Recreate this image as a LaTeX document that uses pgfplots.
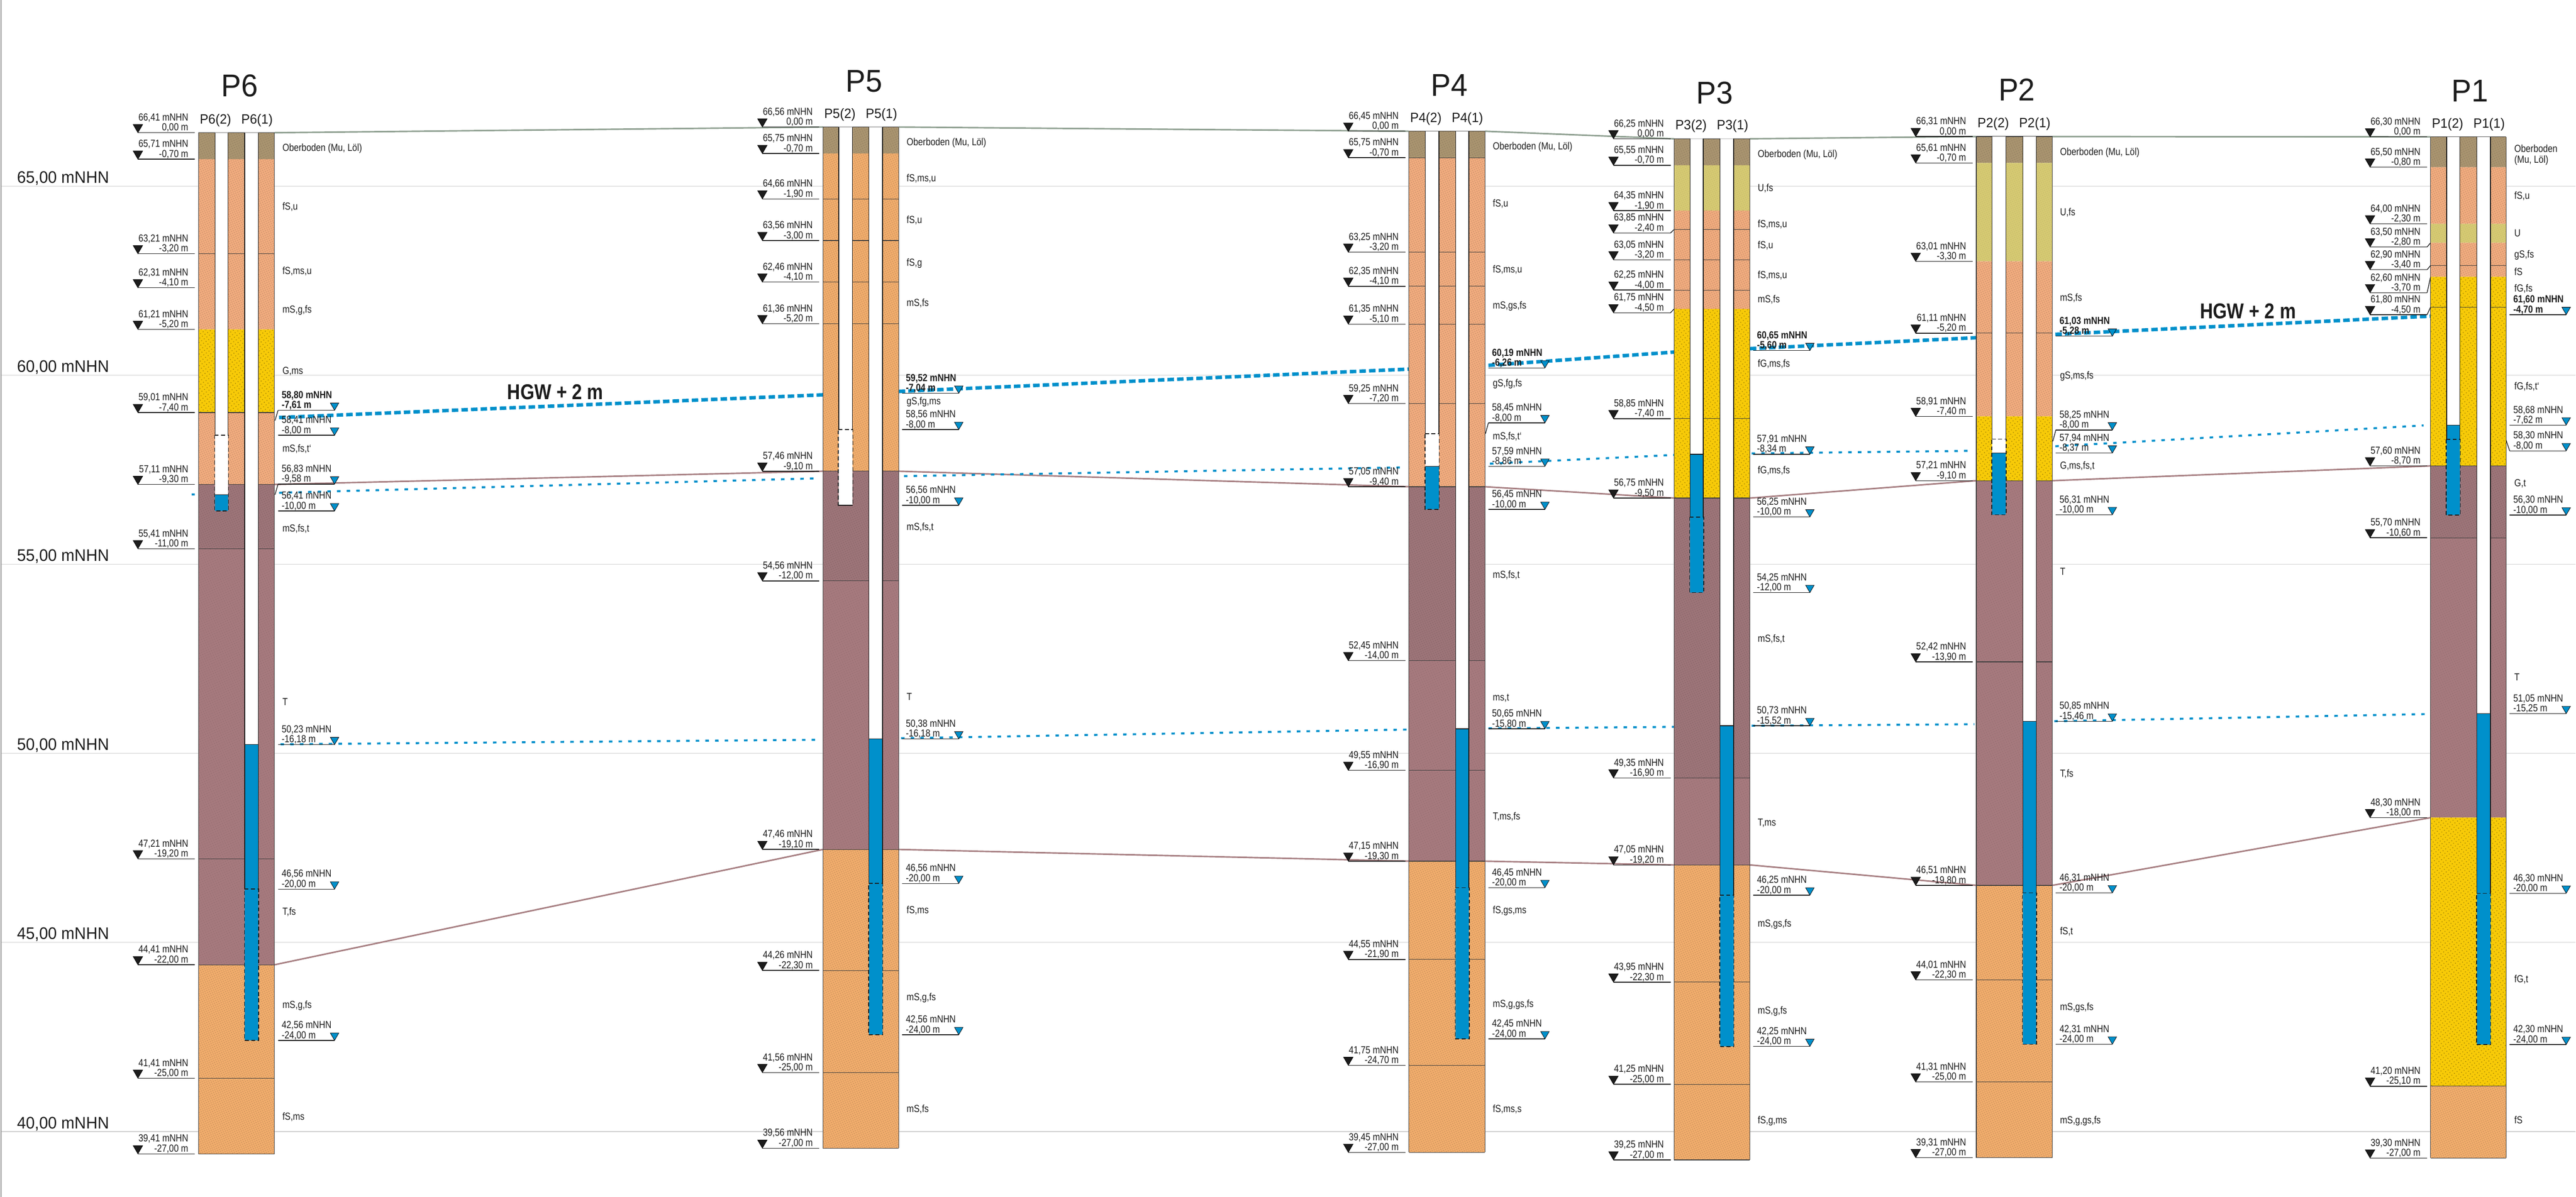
\documentclass[border=0pt]{standalone}
\usepackage{pgfplots}
\pgfplotsset{compat=1.18}
\usepackage{fontspec}
\usetikzlibrary{patterns.meta}
\setmainfont[FakeStretch=0.84]{Liberation Sans}
\newfontfamily\axfont[FakeStretch=0.95]{Liberation Sans}

\definecolor{ober}{HTML}{A8936F}
\definecolor{sandp}{HTML}{F0AB7E}
\definecolor{sand}{HTML}{F0AC6C}
\definecolor{grav}{HTML}{F7CA08}
\definecolor{silt}{HTML}{D5C972}
\definecolor{clay}{HTML}{A5797D}
\definecolor{clayd}{HTML}{9C7478}
\definecolor{wat}{HTML}{0090CB}
\definecolor{terr}{HTML}{8FA091}
\definecolor{clin}{HTML}{A77F82}
\definecolor{ink}{HTML}{1C1C1C}
\definecolor{gridc}{HTML}{CFCFCF}

\pgfplotsset{
  lbl/.style={ink,line width=0.7pt,forget plot},
  sep/.style={ink!85,line width=0.6pt,forget plot},
  tcorr/.style={terr,line width=1.5pt,forget plot},
  ccorr/.style={clin,line width=1.5pt,forget plot},
  hgw/.style={wat,line width=3.5pt,dash pattern=on 6.5pt off 3.1pt,forget plot},
  low/.style={wat,line width=2pt,dash pattern=on 3.5pt off 6.15pt,forget plot},
}
\tikzset{
  tt/.style={inner sep=0pt,text=ink,font=\fontsize{10.25}{12}\selectfont},
  txober/.style={postaction={pattern={Dots[radius=0.4pt,distance=2.3pt,angle=23]},pattern color=ober!80!black}},
  txsandp/.style={postaction={pattern={Dots[radius=0.45pt,distance=2.1pt,angle=23]},pattern color=sandp!78!black}},
  txsand/.style={postaction={pattern={Dots[radius=0.45pt,distance=2.1pt,angle=23]},pattern color=sand!78!black}},
  txgrav/.style={postaction={pattern={Dots[radius=0.6pt,distance=3.2pt,angle=35]},pattern color=grav!70!black}},
  txsilt/.style={postaction={pattern={Dots[radius=0.3pt,distance=2pt,angle=23]},pattern color=silt!85!black}},
  txclay/.style={postaction={pattern={Dots[radius=0.35pt,distance=2.4pt,angle=23]},pattern color=clay!85!black}},
  txclayd/.style={postaction={pattern={Dots[radius=0.4pt,distance=2.2pt,angle=23]},pattern color=clayd!82!black}},
}

% stratum: x left, x right, colour, top, bottom
\newcommand{\st}[5]{\addplot[fill=#3,draw=none,tx#3,forget plot] coordinates {(#1,#4)(#2,#4)(#2,#5)(#1,#5)(#1,#4)};}
% stratum boundary line
\newcommand{\hl}[3]{\addplot[sep] coordinates {(#1,#3)(#2,#3)};}
% outer sides of a column
\newcommand{\sides}[4]{\addplot[sep] coordinates {(#1,#3)(#1,#4)};\addplot[sep] coordinates {(#2,#3)(#2,#4)};}
% pipe: xl, xr, top, water level, filter top, bottom
\newcommand{\pipe}[6]{%
  \addplot[fill=white,draw=none,forget plot] coordinates {(#1,#3)(#2,#3)(#2,#4)(#1,#4)(#1,#3)};
  \addplot[fill=wat,draw=none,forget plot] coordinates {(#1,#4)(#2,#4)(#2,#6)(#1,#6)(#1,#4)};
  \addplot[lbl] coordinates {(#1,#3)(#1,#5)};
  \addplot[lbl] coordinates {(#2,#3)(#2,#5)};
  \addplot[lbl] coordinates {(#1,#4)(#2,#4)};
  \pgfmathsetmacro\pa{#1-0.8}\pgfmathsetmacro\pb{#2+0.8}%
  \addplot[ink,line width=0.8pt,dash pattern=on 4pt off 2.5pt,forget plot] coordinates {(\pa,#5)(\pb,#5)(\pb,#6)(\pa,#6)(\pa,#5)};
}
% left level label: column x, level of the line, two text lines
\newcommand{\Ll}[4]{%
  \pgfmathsetmacro\la{#1-121}\pgfmathsetmacro\lb{#1-7}%
  \addplot[lbl] coordinates {(\la,#2)(\lb,#2)};
  \addplot[only marks,mark=triangle*,mark size=5.5pt,mark options={yshift=5.5pt,rotate=180,fill=ink,draw=none},forget plot] coordinates {(\la,#2)};
  \node[tt,anchor=base east,yshift=12pt] at (axis cs:{#1-20},#2) {#3};
  \node[tt,anchor=base east,yshift=2pt] at (axis cs:{#1-20},#2) {#4};
}
% right water label: column x, level of the line, two text lines, font switch
\newcommand{\Rl}[5][]{%
  \pgfmathsetmacro\la{#2+7}\pgfmathsetmacro\lb{#2+120}%
  \addplot[lbl] coordinates {(\la,#3)(\lb,#3)};
  \addplot[only marks,mark=triangle*,mark size=4.9pt,mark options={yshift=4.9pt,rotate=180,fill=wat,draw=none},forget plot] coordinates {(\lb,#3)};
  \node[tt,anchor=base west,yshift=12pt] at (axis cs:{#2+14},#3) {#1#4};
  \node[tt,anchor=base west,yshift=2pt] at (axis cs:{#2+14},#3) {#1#5};
}
% leader from label line to column
\newcommand{\lead}[4]{\addplot[lbl] coordinates {(#1,#2)(#3,#4)};}
% text by its centre height in pixels of the sheet
\newcommand{\tx}[3]{\node[tt,anchor=base west,yshift=-3.7pt] at (axis cs:#1,{65-(#2-372)/75.6}) {#3};}
\newcommand{\ttl}[3]{\node[inner sep=0pt,text=ink,anchor=base,yshift=-11.3pt,font=\axfont\fontsize{31.5}{34}\selectfont] at (axis cs:#1,{65-(#2-372)/75.6}) {#3};}
\newcommand{\sub}[3]{\node[inner sep=0pt,text=ink,anchor=base,yshift=9pt,font=\axfont\fontsize{13.5}{15}\selectfont] at (axis cs:#1,#2) {#3};}

\begin{document}
\begin{tikzpicture}
\begin{axis}[
  scale only axis,width=2573.5pt,height=1196.5pt,
  xmin=0,xmax=5147,ymin=38.27,ymax=69.92,
  xtick=\empty,
  ytick={40,45,50,55,60,65},
  yticklabels={{40,00 mNHN},{45,00 mNHN},{50,00 mNHN},{55,00 mNHN},{60,00 mNHN},{65,00 mNHN}},
  y tick label style={anchor=base west,inner sep=0pt,xshift=16.5pt,yshift=3pt,text=ink,font=\axfont\fontsize{16.75}{18}\selectfont},
  ymajorgrids,grid style={gridc,line width=0.65pt},
  axis line style={draw=none},major tick length=0pt,
]
\addplot[gray!80,line width=1.25pt,forget plot] coordinates {(1.5,38.27)(1.5,69.92)};

% correlation lines
\addplot[tcorr] coordinates {(548,66.41)(1644,66.56)};
\addplot[tcorr] coordinates {(1795.5,66.56)(2815,66.45)};
\addplot[tcorr] coordinates {(2967,66.45)(3345,66.25)};
\addplot[tcorr] coordinates {(3496.5,66.25)(3949,66.31)};
\addplot[tcorr] coordinates {(4101,66.31)(4857,66.30)};
\addplot[ccorr] coordinates {(548,57.11)(1644,57.46)};
\addplot[ccorr] coordinates {(1795.5,57.46)(2815,57.05)};
\addplot[ccorr] coordinates {(2967,57.05)(3345,56.75)};
\addplot[ccorr] coordinates {(3496.5,56.75)(3949,57.21)};
\addplot[ccorr] coordinates {(4101,57.21)(4857,57.60)};
\addplot[ccorr] coordinates {(548,44.41)(1644,47.46)};
\addplot[ccorr] coordinates {(1795.5,47.46)(2815,47.15)};
\addplot[ccorr] coordinates {(2967,47.15)(3345,47.05)};
\addplot[ccorr] coordinates {(3496.5,47.05)(3949,46.51)};
\addplot[ccorr] coordinates {(4101,46.51)(4857,48.30)};

% HGW + 2 m
\addplot[hgw] coordinates {(557,58.88)(1644,59.48)};
\addplot[hgw] coordinates {(1795.5,59.57)(2815,60.16)};
\addplot[hgw] coordinates {(2974,60.26)(3345,60.61)};
\addplot[hgw] coordinates {(3496.5,60.70)(3949,60.99)};
\addplot[hgw] coordinates {(4107,61.08)(4857,61.56)};
% measured levels
\addplot[low] coordinates {(382,56.84)(389,56.84)};
\addplot[low] coordinates {(557,56.89)(1628,57.27)};
\addplot[low] coordinates {(1806,57.33)(2800,57.56)};
\addplot[low] coordinates {(2977,57.66)(3345,57.89)};
\addplot[low] coordinates {(3500,57.93)(3942,58.00)};
\addplot[low] coordinates {(4107,58.12)(4843,58.67)};
\addplot[low] coordinates {(560,50.24)(1640,50.36)};
\addplot[low] coordinates {(1800,50.40)(2813,50.63)};
\addplot[low] coordinates {(2974,50.66)(3345,50.70)};
\addplot[low] coordinates {(3500,50.73)(3945,50.77)};
\addplot[low] coordinates {(4105,50.85)(4855,51.04)};

\node[inner sep=0pt,text=ink,anchor=base west,font=\fontsize{21.5}{24}\selectfont\bfseries] at (axis cs:1013,{65-(799-372)/75.6}) {HGW + 2 m};
\node[inner sep=0pt,text=ink,anchor=base,font=\fontsize{21.5}{24}\selectfont\bfseries] at (axis cs:4492,{65-(637-372)/75.6}) {HGW + 2 m};

% ---- P6
\st{396}{548}{ober}{66.41}{65.71}
\st{396}{548}{sandp}{65.71}{61.21}
\st{396}{548}{grav}{61.21}{59.01}
\st{396}{548}{sandp}{59.01}{57.11}
\st{396}{548}{clayd}{57.11}{55.41}
\st{396}{548}{clay}{55.41}{44.41}
\st{396}{548}{sand}{44.41}{39.41}
\hl{396}{548}{66.41}\hl{396}{548}{63.21}\hl{396}{548}{59.01}\hl{396}{548}{57.11}\hl{396}{548}{55.41}
\hl{396}{548}{47.21}\hl{396}{548}{44.41}\hl{396}{548}{41.41}\hl{396}{548}{39.41}
\sides{396}{548}{66.41}{39.41}
\pipe{429}{455}{66.41}{56.84}{58.41}{56.41}
\pipe{488.5}{515.5}{66.41}{50.23}{46.41}{42.41}
\ttl{478}{171}{P6}
\sub{430}{66.41}{P6(2)}\sub{513}{66.41}{P6(1)}
\Ll{396}{66.41}{66,41 mNHN}{0,00 m}
\Ll{396}{65.71}{65,71 mNHN}{-0,70 m}
\Ll{396}{63.21}{63,21 mNHN}{-3,20 m}
\Ll{396}{62.31}{62,31 mNHN}{-4,10 m}
\Ll{396}{61.21}{61,21 mNHN}{-5,20 m}
\Ll{396}{59.01}{59,01 mNHN}{-7,40 m}
\Ll{396}{57.11}{57,11 mNHN}{-9,30 m}
\Ll{396}{55.41}{55,41 mNHN}{-11,00 m}
\Ll{396}{47.21}{47,21 mNHN}{-19,20 m}
\Ll{396}{44.41}{44,41 mNHN}{-22,00 m}
\Ll{396}{41.41}{41,41 mNHN}{-25,00 m}
\Ll{396}{39.41}{39,41 mNHN}{-27,00 m}
\Rl[\bfseries]{548}{59.07}{58,80 mNHN}{-7,61 m}
\lead{555}{59.07}{549}{58.80}
\Rl{548}{58.41}{58,41 mNHN}{-8,00 m}
\Rl{548}{57.12}{56,83 mNHN}{-9,58 m}
\lead{555}{57.12}{549}{56.84}
\Rl{548}{56.41}{56,41 mNHN}{-10,00 m}
\Rl{548}{50.23}{50,23 mNHN}{-16,18 m}
\Rl{548}{46.41}{46,56 mNHN}{-20,00 m}
\Rl{548}{42.41}{42,56 mNHN}{-24,00 m}
\tx{563.5}{295}{Oberboden (Mu, Löl)}
\tx{563.5}{412}{fS,u}
\tx{563.5}{541}{fS,ms,u}
\tx{563.5}{618}{mS,g,fs}
\tx{563.5}{741}{G,ms}
\tx{563.5}{896}{mS,fs,t‘}
\tx{563.5}{1056}{mS,fs,t}
\tx{563.5}{1403}{T}
\tx{563.5}{1822}{T,fs}
\tx{563.5}{2008}{mS,g,fs}
\tx{563.5}{2231}{fS,ms}

% ---- P5
\st{1644}{1795.5}{ober}{66.56}{65.86}
\st{1644}{1795.5}{sand}{65.86}{57.46}
\st{1644}{1795.5}{clayd}{57.46}{54.56}
\st{1644}{1795.5}{clay}{54.56}{47.46}
\st{1644}{1795.5}{sand}{47.46}{39.56}
\hl{1644}{1795.5}{66.56}\hl{1644}{1795.5}{64.66}\hl{1644}{1795.5}{63.56}\hl{1644}{1795.5}{62.46}\hl{1644}{1795.5}{61.36}
\hl{1644}{1795.5}{57.46}\hl{1644}{1795.5}{54.56}\hl{1644}{1795.5}{47.46}\hl{1644}{1795.5}{44.26}\hl{1644}{1795.5}{41.56}\hl{1644}{1795.5}{39.56}
\sides{1644}{1795.5}{66.56}{39.56}
\pipe{1675.5}{1703}{66.56}{56.56}{58.56}{56.56}
\pipe{1736}{1763}{66.56}{50.38}{46.56}{42.56}
\ttl{1726}{161}{P5}
\sub{1678}{66.56}{P5(2)}\sub{1761}{66.56}{P5(1)}
\Ll{1644}{66.56}{66,56 mNHN}{0,00 m}
\Ll{1644}{65.86}{65,75 mNHN}{-0,70 m}
\Ll{1644}{64.66}{64,66 mNHN}{-1,90 m}
\Ll{1644}{63.56}{63,56 mNHN}{-3,00 m}
\Ll{1644}{62.46}{62,46 mNHN}{-4,10 m}
\Ll{1644}{61.36}{61,36 mNHN}{-5,20 m}
\Ll{1644}{57.46}{57,46 mNHN}{-9,10 m}
\Ll{1644}{54.56}{54,56 mNHN}{-12,00 m}
\Ll{1644}{47.46}{47,46 mNHN}{-19,10 m}
\Ll{1644}{44.26}{44,26 mNHN}{-22,30 m}
\Ll{1644}{41.56}{41,56 mNHN}{-25,00 m}
\Ll{1644}{39.56}{39,56 mNHN}{-27,00 m}
\Rl[\bfseries]{1795.5}{59.52}{59,52 mNHN}{-7,04 m}
\Rl{1795.5}{58.56}{58,56 mNHN}{-8,00 m}
\Rl{1795.5}{56.56}{56,56 mNHN}{-10,00 m}
\Rl{1795.5}{50.38}{50,38 mNHN}{-16,18 m}
\Rl{1795.5}{46.56}{46,56 mNHN}{-20,00 m}
\Rl{1795.5}{42.56}{42,56 mNHN}{-24,00 m}
\tx{1811}{284}{Oberboden (Mu, Löl)}
\tx{1811}{356}{fS,ms,u}
\tx{1811}{439}{fS,u}
\tx{1811}{524}{fS,g}
\tx{1811}{605}{mS,fs}
\tx{1811}{801}{gS,fg,ms}
\tx{1811}{1053}{mS,fs,t}
\tx{1811}{1392}{T}
\tx{1811}{1819}{fS,ms}
\tx{1811}{1993}{mS,g,fs}
\tx{1811}{2216}{mS,fs}

% ---- P4
\st{2815}{2967}{ober}{66.45}{65.75}
\st{2815}{2967}{sandp}{65.75}{57.05}
\st{2815}{2967}{clayd}{57.05}{52.45}
\st{2815}{2967}{clay}{52.45}{47.15}
\st{2815}{2967}{sand}{47.15}{39.45}
\hl{2815}{2967}{66.45}\hl{2815}{2967}{65.75}\hl{2815}{2967}{63.25}\hl{2815}{2967}{62.35}\hl{2815}{2967}{61.35}\hl{2815}{2967}{59.25}
\hl{2815}{2967}{57.05}\hl{2815}{2967}{52.45}\hl{2815}{2967}{49.55}\hl{2815}{2967}{47.15}\hl{2815}{2967}{44.55}\hl{2815}{2967}{41.75}\hl{2815}{2967}{39.45}
\sides{2815}{2967}{66.45}{39.45}
\pipe{2848}{2875}{66.45}{57.59}{58.45}{56.45}
\pipe{2908.5}{2935}{66.45}{50.65}{46.45}{42.45}
\ttl{2896}{169}{P4}
\sub{2849}{66.45}{P4(2)}\sub{2932}{66.45}{P4(1)}
\Ll{2815}{66.45}{66,45 mNHN}{0,00 m}
\Ll{2815}{65.75}{65,75 mNHN}{-0,70 m}
\Ll{2815}{63.25}{63,25 mNHN}{-3,20 m}
\Ll{2815}{62.35}{62,35 mNHN}{-4,10 m}
\Ll{2815}{61.35}{61,35 mNHN}{-5,10 m}
\Ll{2815}{59.25}{59,25 mNHN}{-7,20 m}
\Ll{2815}{57.05}{57,05 mNHN}{-9,40 m}
\Ll{2815}{52.45}{52,45 mNHN}{-14,00 m}
\Ll{2815}{49.55}{49,55 mNHN}{-16,90 m}
\Ll{2815}{47.15}{47,15 mNHN}{-19,30 m}
\Ll{2815}{44.55}{44,55 mNHN}{-21,90 m}
\Ll{2815}{41.75}{41,75 mNHN}{-24,70 m}
\Ll{2815}{39.45}{39,45 mNHN}{-27,00 m}
\Rl[\bfseries]{2967}{60.19}{60,19 mNHN}{-6,26 m}
\Rl{2967}{58.74}{58,45 mNHN}{-8,00 m}
\lead{2974}{58.74}{2968}{58.45}
\Rl{2967}{57.59}{57,59 mNHN}{-8,86 m}
\Rl{2967}{56.45}{56,45 mNHN}{-10,00 m}
\Rl{2967}{50.65}{50,65 mNHN}{-15,80 m}
\Rl{2967}{46.45}{46,45 mNHN}{-20,00 m}
\Rl{2967}{42.45}{42,45 mNHN}{-24,00 m}
\tx{2982.5}{292}{Oberboden (Mu, Löl)}
\tx{2982.5}{406}{fS,u}
\tx{2982.5}{538}{fS,ms,u}
\tx{2982.5}{610}{mS,gs,fs}
\tx{2982.5}{765}{gS,fg,fs}
\tx{2982.5}{871}{mS,fs,t‘}
\tx{2982.5}{1148}{mS,fs,t}
\tx{2982.5}{1393}{ms,t}
\tx{2982.5}{1631}{T,ms,fs}
\tx{2982.5}{1819}{fS,gs,ms}
\tx{2982.5}{2006}{mS,g,gs,fs}
\tx{2982.5}{2216}{fS,ms,s}

% ---- P3
\st{3345}{3496.5}{ober}{66.25}{65.55}
\st{3345}{3496.5}{silt}{65.55}{64.35}
\st{3345}{3496.5}{sandp}{64.35}{61.75}
\st{3345}{3496.5}{grav}{61.75}{56.75}
\st{3345}{3496.5}{clayd}{56.75}{49.35}
\st{3345}{3496.5}{clay}{49.35}{47.05}
\st{3345}{3496.5}{sand}{47.05}{39.25}
\hl{3345}{3496.5}{66.25}\hl{3345}{3496.5}{63.85}\hl{3345}{3496.5}{63.05}\hl{3345}{3496.5}{62.25}\hl{3345}{3496.5}{58.85}
\hl{3345}{3496.5}{56.75}\hl{3345}{3496.5}{49.35}\hl{3345}{3496.5}{47.05}\hl{3345}{3496.5}{43.95}\hl{3345}{3496.5}{41.25}\hl{3345}{3496.5}{39.25}
\sides{3345}{3496.5}{66.25}{39.25}
\pipe{3377}{3403.5}{66.25}{57.91}{56.25}{54.25}
\pipe{3437}{3464}{66.25}{50.73}{46.25}{42.25}
\ttl{3426}{185}{P3}
\sub{3379}{66.25}{P3(2)}\sub{3462}{66.25}{P3(1)}
\Ll{3345}{66.25}{66,25 mNHN}{0,00 m}
\Ll{3345}{65.55}{65,55 mNHN}{-0,70 m}
\Ll{3345}{64.35}{64,35 mNHN}{-1,90 m}
\Ll{3345}{63.76}{63,85 mNHN}{-2,40 m}
\lead{3338}{63.76}{3345}{63.85}
\Ll{3345}{63.05}{63,05 mNHN}{-3,20 m}
\Ll{3345}{62.25}{62,25 mNHN}{-4,00 m}
\Ll{3345}{61.65}{61,75 mNHN}{-4,50 m}
\lead{3338}{61.65}{3345}{61.75}
\Ll{3345}{58.85}{58,85 mNHN}{-7,40 m}
\Ll{3345}{56.75}{56,75 mNHN}{-9,50 m}
\Ll{3345}{49.35}{49,35 mNHN}{-16,90 m}
\Ll{3345}{47.05}{47,05 mNHN}{-19,20 m}
\Ll{3345}{43.95}{43,95 mNHN}{-22,30 m}
\Ll{3345}{41.25}{41,25 mNHN}{-25,00 m}
\Ll{3345}{39.25}{39,25 mNHN}{-27,00 m}
\Rl[\bfseries]{3496.5}{60.65}{60,65 mNHN}{-5,60 m}
\Rl{3496.5}{57.91}{57,91 mNHN}{-8,34 m}
\Rl{3496.5}{56.25}{56,25 mNHN}{-10,00 m}
\Rl{3496.5}{54.25}{54,25 mNHN}{-12,00 m}
\Rl{3496.5}{50.73}{50,73 mNHN}{-15,52 m}
\Rl{3496.5}{46.25}{46,25 mNHN}{-20,00 m}
\Rl{3496.5}{42.25}{42,25 mNHN}{-24,00 m}
\tx{3512}{307}{Oberboden (Mu, Löl)}
\tx{3512}{375}{U,fs}
\tx{3512}{447}{fS,ms,u}
\tx{3512}{489}{fS,u}
\tx{3512}{549}{fS,ms,u}
\tx{3512}{598}{mS,fs}
\tx{3512}{726}{fG,ms,fs}
\tx{3512}{939}{fG,ms,fs}
\tx{3512}{1276}{mS,fs,t}
\tx{3512}{1644}{T,ms}
\tx{3512}{1845}{mS,gs,fs}
\tx{3512}{2019}{mS,g,fs}
\tx{3512}{2239}{fS,g,ms}

% ---- P2
\st{3949}{4101}{ober}{66.31}{65.61}
\st{3949}{4101}{silt}{65.61}{63.01}
\st{3949}{4101}{sandp}{63.01}{58.91}
\st{3949}{4101}{grav}{58.91}{57.21}
\st{3949}{4101}{clay}{57.21}{46.51}
\st{3949}{4101}{sand}{46.51}{39.31}
\hl{3949}{4101}{66.31}\hl{3949}{4101}{61.11}\hl{3949}{4101}{57.21}\hl{3949}{4101}{52.42}\hl{3949}{4101}{46.51}
\hl{3949}{4101}{44.01}\hl{3949}{4101}{41.31}\hl{3949}{4101}{39.31}
\sides{3949}{4101}{66.31}{39.31}
\pipe{3980.5}{4008}{66.31}{57.94}{58.31}{56.31}
\pipe{4042}{4069}{66.31}{50.85}{46.31}{42.31}
\ttl{4030}{179}{P2}
\sub{3983}{66.31}{P2(2)}\sub{4066}{66.31}{P2(1)}
\Ll{3949}{66.31}{66,31 mNHN}{0,00 m}
\Ll{3949}{65.61}{65,61 mNHN}{-0,70 m}
\Ll{3949}{63.01}{63,01 mNHN}{-3,30 m}
\Ll{3949}{61.11}{61,11 mNHN}{-5,20 m}
\Ll{3949}{58.91}{58,91 mNHN}{-7,40 m}
\Ll{3949}{57.21}{57,21 mNHN}{-9,10 m}
\Ll{3949}{52.42}{52,42 mNHN}{-13,90 m}
\Ll{3949}{46.51}{46,51 mNHN}{-19,80 m}
\Ll{3949}{44.01}{44,01 mNHN}{-22,30 m}
\Ll{3949}{41.31}{41,31 mNHN}{-25,00 m}
\Ll{3949}{39.31}{39,31 mNHN}{-27,00 m}
\Rl[\bfseries]{4101}{61.03}{61,03 mNHN}{-5,28 m}
\Rl{4101}{58.55}{58,25 mNHN}{-8,00 m}
\lead{4108}{58.55}{4102}{58.25}
\Rl{4101}{57.94}{57,94 mNHN}{-8,37 m}
\Rl{4101}{56.31}{56,31 mNHN}{-10,00 m}
\Rl{4101}{50.85}{50,85 mNHN}{-15,46 m}
\Rl{4101}{46.31}{46,31 mNHN}{-20,00 m}
\Rl{4101}{42.31}{42,31 mNHN}{-24,00 m}
\tx{4116}{303}{Oberboden (Mu, Löl)}
\tx{4116}{424}{U,fs}
\tx{4116}{594}{mS,fs}
\tx{4116}{750}{gS,ms,fs}
\tx{4116}{930}{G,ms,fs,t}
\tx{4116}{1142}{T}
\tx{4116}{1546}{T,fs}
\tx{4116}{1861}{fS,t}
\tx{4116}{2012}{mS,gs,fs}
\tx{4116}{2239}{mS,g,gs,fs}

% ---- P1
\st{4857}{5008}{ober}{66.30}{65.50}
\st{4857}{5008}{sandp}{65.50}{64.00}
\st{4857}{5008}{silt}{64.00}{63.50}
\st{4857}{5008}{sandp}{63.50}{62.60}
\st{4857}{5008}{grav}{62.60}{57.60}
\st{4857}{5008}{clayd}{57.60}{55.70}
\st{4857}{5008}{clay}{55.70}{48.30}
\st{4857}{5008}{grav}{48.30}{41.20}
\st{4857}{5008}{sand}{41.20}{39.30}
\hl{4857}{5008}{66.30}\hl{4857}{5008}{62.90}\hl{4857}{5008}{61.80}\hl{4857}{5008}{57.60}\hl{4857}{5008}{55.70}\hl{4857}{5008}{41.20}\hl{4857}{5008}{39.30}
\sides{4857}{5008}{66.30}{39.30}
\pipe{4889}{4915.5}{66.30}{58.68}{58.30}{56.30}
\pipe{4949.5}{4976.5}{66.30}{51.05}{46.30}{42.30}
\ttl{4936}{181}{P1}
\sub{4891}{66.30}{P1(2)}\sub{4974}{66.30}{P1(1)}
\Ll{4857}{66.30}{66,30 mNHN}{0,00 m}
\Ll{4857}{65.50}{65,50 mNHN}{-0,80 m}
\Ll{4857}{64.00}{64,00 mNHN}{-2,30 m}
\Ll{4857}{63.39}{63,50 mNHN}{-2,80 m}
\lead{4850}{63.39}{4857}{63.50}
\Ll{4857}{62.79}{62,90 mNHN}{-3,40 m}
\lead{4850}{62.79}{4857}{62.90}
\Ll{4857}{62.18}{62,60 mNHN}{-3,70 m}
\lead{4850}{62.18}{4857}{62.60}
\Ll{4857}{61.60}{61,80 mNHN}{-4,50 m}
\lead{4850}{61.60}{4857}{61.80}
\Ll{4857}{57.60}{57,60 mNHN}{-8,70 m}
\Ll{4857}{55.70}{55,70 mNHN}{-10,60 m}
\Ll{4857}{48.30}{48,30 mNHN}{-18,00 m}
\Ll{4857}{41.20}{41,20 mNHN}{-25,10 m}
\Ll{4857}{39.30}{39,30 mNHN}{-27,00 m}
\Rl[\bfseries]{5008}{61.60}{61,60 mNHN}{-4,70 m}
\Rl{5008}{58.68}{58,68 mNHN}{-7,62 m}
\Rl{5008}{58.00}{58,30 mNHN}{-8,00 m}
\lead{5015}{58.00}{5008}{58.28}
\Rl{5008}{56.30}{56,30 mNHN}{-10,00 m}
\Rl{5008}{51.05}{51,05 mNHN}{-15,25 m}
\Rl{5008}{46.30}{46,30 mNHN}{-20,00 m}
\Rl{5008}{42.30}{42,30 mNHN}{-24,00 m}
\tx{5024}{297}{Oberboden}
\tx{5024}{319}{(Mu, Löl)}
\tx{5024}{391}{fS,u}
\tx{5024}{466}{U}
\tx{5024}{508}{gS,fs}
\tx{5024}{543}{fS}
\tx{5024}{576}{fG,fs}
\tx{5024}{772}{fG,fs,t‘}
\tx{5024}{965}{G,t}
\tx{5024}{1353}{T}
\tx{5024}{1957}{fG,t}
\tx{5024}{2239}{fS}
\end{axis}
\end{tikzpicture}
\end{document}
